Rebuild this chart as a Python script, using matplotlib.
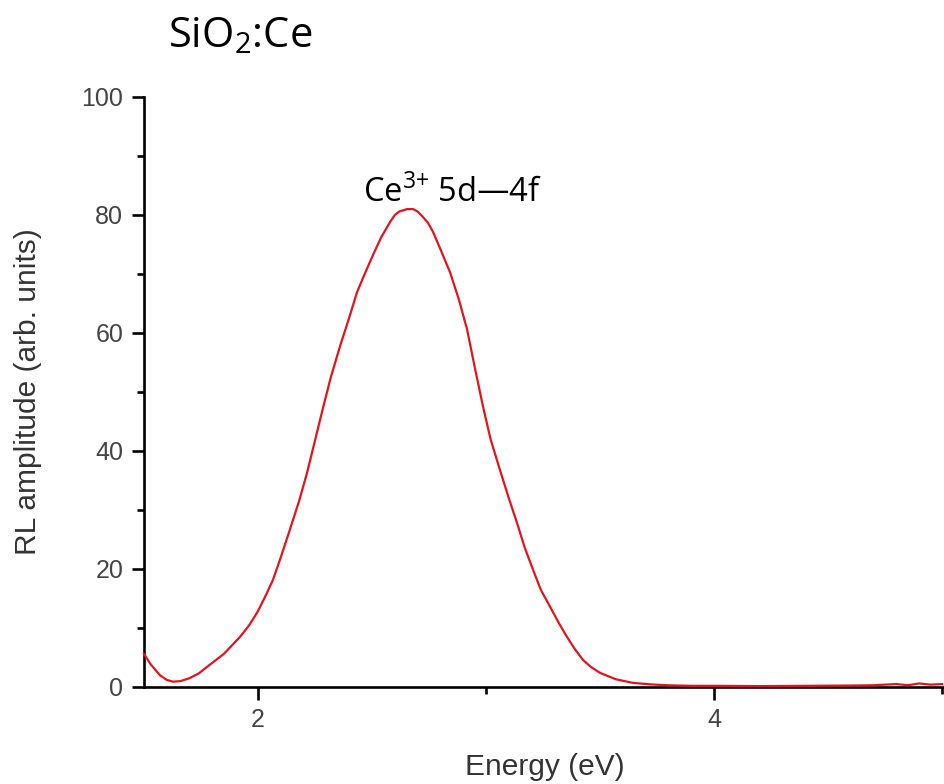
import numpy as np
import matplotlib
matplotlib.use('Agg')
import matplotlib.pyplot as plt
from matplotlib.ticker import MultipleLocator

# RL spectrum (energy in eV, amplitude in arb. units)
energy = [1.50, 1.53, 1.57, 1.60, 1.627, 1.66, 1.70, 1.74, 1.776, 1.85, 1.921, 1.96, 1.996,
          2.03, 2.066, 2.10, 2.140, 2.18, 2.215, 2.25, 2.285, 2.32, 2.360, 2.40, 2.434,
          2.47, 2.504, 2.54, 2.579, 2.60, 2.62, 2.654, 2.680, 2.70, 2.72, 2.745, 2.768,
          2.80, 2.842, 2.88, 2.917, 2.95, 2.987, 3.02, 3.061, 3.10, 3.136, 3.17, 3.206,
          3.24, 3.281, 3.32, 3.355, 3.39, 3.425, 3.46, 3.500, 3.57, 3.645, 3.72, 3.794,
          3.90, 4.00, 4.20, 4.40, 4.60, 4.70, 4.80, 4.85, 4.90, 4.95, 5.00]
amplitude = [5.6, 3.8, 2.0, 1.2, 0.9, 1.0, 1.5, 2.3, 3.4, 5.6, 8.5, 10.4, 12.6,
             15.2, 18.2, 22.0, 26.7, 31.5, 36.3, 41.8, 47.3, 52.6, 57.8, 62.6, 66.9,
             70.2, 73.2, 76.2, 78.8, 80.0, 80.6, 81.0, 81.0, 80.6, 79.8, 78.7, 77.1,
             74.2, 70.3, 65.8, 60.6, 54.3, 47.5, 42.0, 36.8, 32.0, 27.8, 23.6, 19.9,
             16.5, 13.6, 10.8, 8.5, 6.4, 4.6, 3.4, 2.4, 1.3, 0.7, 0.45, 0.3,
             0.2, 0.2, 0.15, 0.2, 0.25, 0.3, 0.5, 0.3, 0.6, 0.4, 0.5]

title_text = 'SiO$_\\mathregular{2}$:Ce'
peak_label = 'Ce$^\\mathregular{3{+}}$ 5d\u20144f'

plt.rcParams['font.family'] = ['Liberation Sans', 'DejaVu Sans']

fig = plt.figure(figsize=(9.45, 7.84), dpi=100)
ax = fig.add_axes([144/945, 97/784, 1 - 144/945, 590/784])

ax.plot(energy, amplitude, color='#e3141f', lw=1.6, zorder=3, clip_on=False)

ax.set_xlim(1.5, 5.013)
ax.set_ylim(0, 100)
ax.xaxis.set_major_locator(MultipleLocator(2))
ax.xaxis.set_minor_locator(MultipleLocator(1))
ax.yaxis.set_major_locator(MultipleLocator(20))
ax.yaxis.set_minor_locator(MultipleLocator(10))

ax.spines['top'].set_visible(False)
ax.spines['right'].set_visible(False)
for s in ['left', 'bottom']:
    ax.spines[s].set_linewidth(1.9)
ax.tick_params(which='major', direction='out', length=9, width=1.9,
               labelsize=18, labelcolor='#444444', pad=6)
ax.tick_params(which='minor', direction='out', length=5, width=1.9)

ax.set_xlabel('Energy (eV)', fontsize=21.5, color='#333333', labelpad=15)
ax.set_ylabel('RL amplitude (arb. units)', fontsize=21.5, color='#333333', labelpad=28)

fig.text(168/945, 1 - 47/784, title_text, fontsize=30, family=['Open Sans', 'DejaVu Sans'],
         ha='left', va='baseline')
ax.text(2.46, 82.2, peak_label, fontsize=23.5, family=['Open Sans', 'DejaVu Sans'],
        ha='left', va='baseline')

fig.savefig('out.png', dpi=100)
